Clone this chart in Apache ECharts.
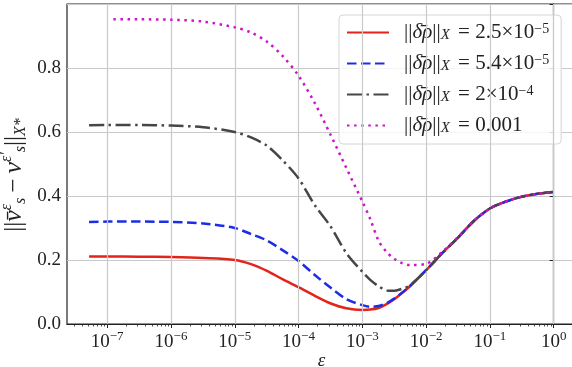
<!DOCTYPE html>
<html>
<head>
<meta charset="utf-8">
<script src="https://cdn.jsdelivr.net/npm/echarts@6/dist/echarts.min.js"></script>
<style>
  html, body { margin: 0; padding: 0; background: #fff; }
  #chart { width: 572px; height: 367px; }
</style>
</head>
<body>
<div id="chart"></div>
<script>
// Regularisation parameter values (epsilon) at which the error was evaluated
const epsilon = [5.2e-8, 1e-7, 3.2e-7, 1e-6, 3.2e-6, 1e-5, 1.8e-5, 3.2e-5, 5.6e-5, 1e-4,
  1.8e-4, 3.2e-4, 5.6e-4, 1e-3, 1.33e-3, 1.8e-3, 2.4e-3, 3.2e-3, 4.2e-3, 5.6e-3,
  1e-2, 1.8e-2, 3.2e-2, 5.6e-2, 0.1, 0.18, 0.32, 0.56, 1];
const epsilonDotted = [1.25e-7, 3.2e-7, 1e-6, 3.2e-6, 1e-5, 1.8e-5, 3.2e-5, 5.6e-5, 1e-4,
  1.8e-4, 3.2e-4, 5.6e-4, 1e-3, 1.33e-3, 1.8e-3, 2.4e-3, 3.2e-3, 4.2e-3, 5.6e-3,
  1e-2, 1.8e-2, 3.2e-2, 5.6e-2, 0.1, 0.18, 0.32, 0.56, 1];

// Error norm for each perturbation size
const errRho25e6 = [0.211, 0.211, 0.2105, 0.209, 0.206, 0.200, 0.187, 0.166, 0.140, 0.115,
  0.088, 0.064, 0.049, 0.044, 0.045, 0.050, 0.062, 0.078, 0.097, 0.118,
  0.168, 0.222, 0.271, 0.322, 0.361, 0.383, 0.398, 0.407, 0.4125];
const errRho54e6 = [0.319, 0.320, 0.320, 0.319, 0.314, 0.300, 0.281, 0.261, 0.231, 0.197,
  0.153, 0.113, 0.078, 0.059, 0.054, 0.056, 0.065, 0.080, 0.098, 0.119,
  0.168, 0.222, 0.271, 0.322, 0.361, 0.383, 0.398, 0.407, 0.4125];
const errRho2e4 = [0.621, 0.622, 0.622, 0.620, 0.615, 0.600, 0.583, 0.557, 0.512, 0.455,
  0.371, 0.304, 0.222, 0.163, 0.138, 0.118, 0.105, 0.104, 0.110, 0.121,
  0.168, 0.222, 0.271, 0.322, 0.361, 0.383, 0.398, 0.407, 0.4125];
const errRho1e3 = [0.952, 0.952, 0.951, 0.945, 0.927, 0.911, 0.882, 0.838, 0.776,
  0.690, 0.590, 0.488, 0.383, 0.328, 0.260, 0.225, 0.203, 0.190, 0.184,
  0.188, 0.226, 0.272, 0.322, 0.361, 0.383, 0.398, 0.407, 0.4125];

// Legend text pieces: mantissa and exponent of each perturbation norm
const legendMantissa = ['2.5×10', '5.4×10', '2×10', '0.001'];
const legendExponent = ['−5', '−5', '−4', ''];

// Axis ticks
const decadeExponents = [-7, -6, -5, -4, -3, -2, -1, 0];
const yTicks = [0, 0.2, 0.4, 0.6, 0.8];

const X_MIN = -7.63, X_MAX = 0.35;
const SERIF = "'Liberation Serif', 'DejaVu Serif', serif";
const THIN = '\u2009';

const minorTicks = [];
for (let n = -8; n <= 0; n++) {
  for (let k = 2; k <= 9; k++) {
    const v = n + Math.log10(k);
    if (v > X_MIN && v < X_MAX) minorTicks.push(v);
  }
}

function toPoints(xs, ys) {
  return xs.map((e, i) => [Math.log10(e), ys[i]]);
}

const styles = [
  { color: '#e3241b', type: 'solid' },
  { color: '#1c2ee3', type: [9.5, 4.5] },
  { color: '#464646', type: [15, 4.5, 2.5, 4.5] },
  { color: '#cc14c8', type: [2.5, 4.6] }
];
const seriesData = [
  toPoints(epsilon, errRho25e6),
  toPoints(epsilon, errRho54e6),
  toPoints(epsilon, errRho2e4),
  toPoints(epsilonDotted, errRho1e3)
];
const names = ['r0', 'r1', 'r2', 'r3'];

const chart = echarts.init(document.getElementById('chart'), null, { renderer: 'canvas' });

const series = seriesData.map((d, i) => ({
  name: names[i],
  type: 'line',
  data: d,
  smooth: 0.3,
  showSymbol: false,
  symbol: 'none',
  lineStyle: { color: styles[i].color, width: 2.5, type: styles[i].type, cap: 'butt' },
  itemStyle: { color: styles[i].color },
  z: 3 + i
}));

// Vertical grid lines at each decade
series.push({
  type: 'line', data: [], silent: true,
  markLine: {
    silent: true, symbol: 'none', label: { show: false },
    lineStyle: { color: '#c9c9c9', width: 1.2, type: 'solid' },
    data: decadeExponents.map(v => ({ xAxis: v }))
  },
  z: 1
});

const txt = { fontFamily: SERIF, color: '#222' };

chart.setOption({
  animation: false,
  backgroundColor: '#fff',
  grid: {
    left: 67, top: 4, width: 509, bottom: 43,
    outerBoundsMode: 'none', containLabel: false,
    show: true, borderColor: '#222', borderWidth: 1.2, backgroundColor: 'transparent'
  },
  legend: {
    orient: 'vertical',
    left: 339, top: 15,
    itemWidth: 42, itemHeight: 14, itemGap: 10,
    padding: [7, 12, 8, 7],
    backgroundColor: 'rgba(255,255,255,0.82)',
    borderColor: '#d6d6d6', borderWidth: 1, borderRadius: 4,
    itemStyle: { opacity: 0, borderWidth: 0 },
    data: names,
    formatter: name => {
      const i = names.indexOf(name);
      const exp = legendExponent[i] ? `{e|${legendExponent[i]}}` : '';
      return `{n|||}{i|δ̄ρ}{n|||}{s|X${THIN}}{n| = ${legendMantissa[i]}}${exp}`;
    },
    textStyle: {
      padding: [0, 0, 0, 10],
      rich: {
        n: { ...txt, fontSize: 21, lineHeight: 21, verticalAlign: 'middle' },
        i: { ...txt, fontSize: 21, fontStyle: 'italic', lineHeight: 21, verticalAlign: 'middle' },
        s: { ...txt, fontSize: 15, fontStyle: 'italic', lineHeight: 21, verticalAlign: 'bottom' },
        e: { ...txt, fontSize: 14, lineHeight: 12, verticalAlign: 'top' }
      }
    }
  },
  xAxis: [{
    type: 'value', min: X_MIN, max: X_MAX,
    name: 'ε', nameLocation: 'middle', nameGap: 27, nameMoveOverlap: false,
    nameTextStyle: { ...txt, fontSize: 19, fontStyle: 'italic' },
    axisLine: { show: true, lineStyle: { color: '#222', width: 1.2 } },
    axisTick: { show: true, inside: false, length: 4, lineStyle: { color: '#222', width: 1 }, customValues: decadeExponents },
    splitLine: { show: false },
    axisLabel: {
      customValues: decadeExponents,
      margin: 6,
      formatter: v => `{b|10}{e|${v < 0 ? '−' + (-v) : v}}`,
      rich: {
        b: { ...txt, fontSize: 19, lineHeight: 22, verticalAlign: 'bottom' },
        e: { ...txt, fontSize: 13, lineHeight: 12, verticalAlign: 'top' }
      }
    }
  }, {
    type: 'value', min: X_MIN, max: X_MAX, position: 'bottom', gridIndex: 0,
    axisLine: { show: false },
    axisTick: { show: true, inside: false, length: 2.5, lineStyle: { color: '#222', width: 0.8 }, customValues: minorTicks },
    axisLabel: { show: false },
    splitLine: { show: false }
  }],
  yAxis: {
    type: 'value', min: 0, max: 1, interval: 0.2,
    name: `{n|||}{v|v̄}{p|ε}{b|s}{n|${THIN}−${THIN}}{v|v}{p|ε′}{b|s}{n|||}{b|X*}`,
    nameLocation: 'middle', nameGap: 38, nameRotate: 90, nameMoveOverlap: false,
    nameTextStyle: {
      padding: [0, 22, 0, 0],
      rich: {
        n: { ...txt, fontSize: 25, lineHeight: 30, verticalAlign: 'middle' },
        v: { ...txt, fontSize: 26, fontStyle: 'italic', lineHeight: 30, verticalAlign: 'middle' },
        p: { ...txt, fontSize: 16, fontStyle: 'italic', lineHeight: 14, verticalAlign: 'top' },
        b: { ...txt, fontSize: 16, fontStyle: 'italic', lineHeight: 14, verticalAlign: 'bottom' }
      }
    },
    axisLine: { show: true, lineStyle: { color: '#222', width: 1.2 } },
    axisTick: { show: true, inside: false, length: 4, lineStyle: { color: '#222', width: 1 } },
    splitLine: { show: true, lineStyle: { color: '#c9c9c9', width: 1.2 } },
    axisLabel: {
      margin: 6,
      ...txt, fontSize: 19,
      formatter: v => (yTicks.some(t => Math.abs(t - v) < 1e-6) ? v.toFixed(1) : '')
    }
  },
  series: series
});
</script>
</body>
</html>
